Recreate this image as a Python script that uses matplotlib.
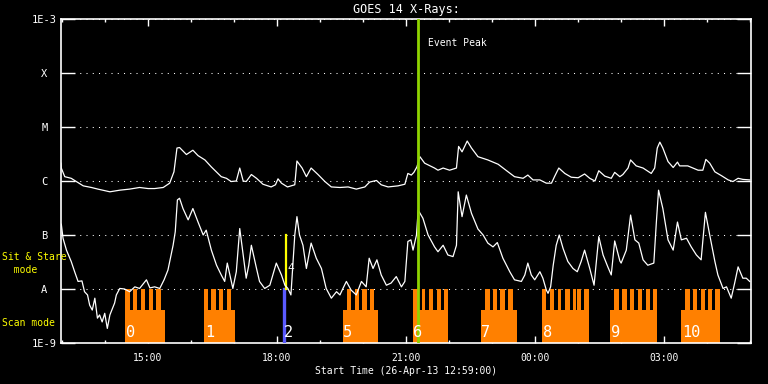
import numpy as np
import matplotlib
matplotlib.use('Agg')
import matplotlib.pyplot as plt
from matplotlib.ticker import NullLocator

plt.rcParams['font.family'] = ['DejaVu Sans Mono']

# time in hours of day (24+ = next day), flux as log10(W/m^2)
t_long = [12.98, 12.99, 13.07, 13.22, 13.34, 13.50, 13.69, 13.84, 14.12, 14.35, 14.58, 14.81,
          15.01, 15.16, 15.36, 15.51, 15.61, 15.68, 15.74, 15.90, 16.05, 16.17, 16.33, 16.48,
          16.71, 16.83, 16.94, 17.06, 17.14, 17.22, 17.29, 17.41, 17.53, 17.68, 17.87, 17.97,
          18.03, 18.11, 18.25, 18.42, 18.47, 18.59, 18.69, 18.80, 18.96, 19.12, 19.27, 19.47,
          19.66, 19.85, 20.05, 20.16, 20.32, 20.43, 20.59, 20.82, 20.98, 21.05, 21.13, 21.19,
          21.26, 21.33, 21.44, 21.67, 21.75, 21.87, 22.02, 22.18, 22.23, 22.31, 22.43, 22.53,
          22.68, 22.91, 23.15, 23.38, 23.53, 23.73, 23.84, 23.96, 24.12, 24.27, 24.39, 24.46,
          24.56, 24.70, 24.85, 25.01, 25.16, 25.28, 25.40, 25.49, 25.63, 25.78, 25.86, 25.98,
          26.05, 26.17, 26.23, 26.36, 26.52, 26.71, 26.79, 26.85, 26.91, 26.98, 27.10, 27.22,
          27.32, 27.37, 27.56, 27.80, 27.91, 27.98, 28.07, 28.19, 28.34, 28.50, 28.61, 28.73,
          28.84, 29.00]
f_long = [-5.67, -5.76, -5.92, -5.95, -6.01, -6.09, -6.12, -6.15, -6.20, -6.17, -6.15, -6.12,
          -6.14, -6.14, -6.12, -6.04, -5.83, -5.39, -5.38, -5.51, -5.43, -5.53, -5.61, -5.74,
          -5.92, -5.95, -6.01, -6.00, -5.76, -6.00, -6.01, -5.88, -5.95, -6.06, -6.11, -6.07,
          -5.96, -6.04, -6.11, -6.07, -5.63, -5.76, -5.92, -5.76, -5.88, -6.01, -6.11, -6.12,
          -6.11, -6.15, -6.11, -6.02, -5.99, -6.07, -6.11, -6.09, -6.06, -5.86, -5.89, -5.84,
          -5.74, -5.55, -5.67, -5.76, -5.80, -5.76, -5.80, -5.76, -5.36, -5.46, -5.26, -5.39,
          -5.55, -5.61, -5.69, -5.83, -5.92, -5.95, -5.89, -5.98, -5.98, -6.04, -6.04, -5.92,
          -5.76, -5.86, -5.93, -5.94, -5.87, -5.95, -6.00, -5.81, -5.91, -5.95, -5.84, -5.92,
          -5.88, -5.76, -5.61, -5.72, -5.76, -5.86, -5.76, -5.39, -5.28, -5.39, -5.64, -5.75,
          -5.65, -5.72, -5.72, -5.80, -5.80, -5.60, -5.67, -5.83, -5.90, -5.98, -6.01, -5.95,
          -5.97, -5.98]

t_short = [12.99, 13.03, 13.11, 13.22, 13.30, 13.38, 13.47, 13.53, 13.60, 13.65, 13.71, 13.77,
           13.83, 13.88, 13.94, 14.00, 14.06, 14.12, 14.18, 14.23, 14.27, 14.35, 14.46, 14.58,
           14.70, 14.81, 14.97, 15.05, 15.16, 15.28, 15.38, 15.47, 15.59, 15.64, 15.69, 15.74,
           15.82, 15.94, 16.05, 16.17, 16.29, 16.36, 16.48, 16.60, 16.71, 16.79, 16.85, 16.91,
           16.98, 17.06, 17.14, 17.22, 17.29, 17.35, 17.41, 17.53, 17.60, 17.72, 17.84, 17.99,
           18.11, 18.19, 18.26, 18.33, 18.42, 18.47, 18.53, 18.61, 18.69, 18.80, 18.92, 19.04,
           19.15, 19.27, 19.39, 19.47, 19.54, 19.62, 19.73, 19.85, 19.97, 20.08, 20.15, 20.24,
           20.33, 20.43, 20.55, 20.66, 20.78, 20.90, 20.98, 21.05, 21.12, 21.17, 21.25, 21.29,
           21.40, 21.52, 21.67, 21.75, 21.87, 21.98, 22.10, 22.18, 22.22, 22.31, 22.41, 22.53,
           22.68, 22.80, 22.91, 23.03, 23.13, 23.26, 23.42, 23.53, 23.69, 23.77, 23.84, 23.92,
           24.00, 24.12, 24.19, 24.27, 24.31, 24.37, 24.43, 24.50, 24.57, 24.66, 24.77, 24.89,
           24.99, 25.08, 25.16, 25.28, 25.38, 25.49, 25.59, 25.70, 25.78, 25.86, 25.98, 26.01,
           26.13, 26.23, 26.33, 26.42, 26.52, 26.63, 26.77, 26.83, 26.88, 26.98, 27.10, 27.22,
           27.32, 27.41, 27.53, 27.64, 27.76, 27.87, 27.97, 28.07, 28.19, 28.26, 28.38, 28.46,
           28.57, 28.65, 28.73, 28.84, 28.92, 29.00]
f_short = [-6.80, -7.06, -7.28, -7.49, -7.68, -7.86, -7.85, -8.05, -8.11, -8.30, -8.39, -8.17,
           -8.54, -8.48, -8.61, -8.45, -8.73, -8.48, -8.36, -8.26, -8.11, -7.99, -8.00, -8.05,
           -7.96, -7.99, -7.83, -7.98, -7.96, -7.99, -7.83, -7.65, -7.19, -6.94, -6.35, -6.32,
           -6.51, -6.72, -6.51, -6.76, -7.00, -6.91, -7.28, -7.56, -7.74, -7.86, -7.52, -7.74,
           -7.99, -7.68, -6.88, -7.37, -7.80, -7.56, -7.19, -7.62, -7.86, -7.99, -7.93, -7.52,
           -7.74, -7.93, -7.99, -8.11, -7.00, -6.66, -7.00, -7.19, -7.62, -7.15, -7.43, -7.62,
           -7.99, -8.17, -8.05, -8.11, -7.99, -7.86, -8.02, -8.11, -7.86, -7.96, -7.43, -7.62,
           -7.46, -7.74, -7.93, -7.89, -7.77, -7.96, -7.86, -7.12, -7.09, -7.28, -7.00, -6.54,
           -6.69, -7.00, -7.22, -7.31, -7.19, -7.37, -7.40, -7.19, -6.20, -6.66, -6.26, -6.60,
           -6.89, -7.00, -7.15, -7.22, -7.14, -7.43, -7.68, -7.83, -7.86, -7.74, -7.52, -7.74,
           -7.83, -7.68, -7.80, -8.02, -8.08, -7.96, -7.56, -7.19, -7.00, -7.25, -7.49, -7.62,
           -7.68, -7.49, -7.28, -7.62, -7.93, -7.03, -7.37, -7.59, -7.74, -7.11, -7.48, -7.52,
           -7.28, -6.63, -7.09, -7.15, -7.46, -7.56, -7.52, -6.75, -6.17, -6.51, -7.09, -7.28,
           -6.76, -7.09, -7.06, -7.22, -7.37, -7.46, -6.58, -7.00, -7.49, -7.74, -7.99, -7.96,
           -8.17, -7.89, -7.59, -7.80, -7.80, -7.86]

# scan groups: id, block start/end, sit & stare intervals
scan_ids = [0, 1, 5, 6, 7, 8, 9, 10]
scan_blocks = [(14.47, 15.40), (16.31, 17.03), (19.53, 20.35), (21.16, 21.98),
               (22.74, 23.59), (24.17, 25.26), (25.75, 26.84), (27.40, 28.31)]
stare_parts = [
    [(14.47, 14.58), (14.66, 14.75), (14.84, 14.93), (15.02, 15.12), (15.20, 15.30)],
    [(16.31, 16.41), (16.48, 16.58), (16.66, 16.76), (16.84, 16.94)],
    [(19.63, 19.73), (19.82, 19.91), (19.99, 20.09), (20.17, 20.26)],
    [(21.16, 21.29), (21.37, 21.46), (21.55, 21.64), (21.72, 21.81), (21.89, 21.98)],
    [(22.85, 22.95), (23.03, 23.13), (23.20, 23.30), (23.38, 23.49)],
    [(24.17, 24.27), (24.36, 24.45), (24.53, 24.62), (24.70, 24.81), (24.89, 24.96),
     (24.99, 25.07), (25.15, 25.26)],
    [(25.85, 25.96), (26.04, 26.14), (26.22, 26.32), (26.40, 26.49), (26.58, 26.68),
     (26.76, 26.84)],
    [(27.50, 27.60), (27.68, 27.78), (27.86, 27.95), (28.03, 28.13), (28.20, 28.31)],
]
scan_level = 10 ** -8.39
stare_level = 1e-8
floor = 1e-9

event_peak = 21.29
blue_time, blue_id = 18.16, 2
yellow_time = 18.22

t_start, t_end = 12.983, 29.03
major_hours = [15, 18, 21, 24, 27]
major_labels = ['15:00', '18:00', '21:00', '00:00', '03:00']
minor_hours = list(range(13, 30))
levels = [1e-9, 1e-8, 1e-7, 1e-6, 1e-5, 1e-4, 1e-3]
level_labels = ['1E-9', 'A', 'B', 'C', 'M', 'X', '1E-3']

ORANGE = '#ff8000'
FS = 7
fig = plt.figure(figsize=(7.68, 3.84), dpi=100, facecolor='black')
ax = fig.add_axes([61/768, 1-343/384, 690/768, 324/384], facecolor='black')
ax.set_yscale('log')
ax.set_xlim(t_start, t_end)
ax.set_ylim(1e-9, 1e-3)

# orange scan / sit&stare blocks
for gid, (a, b), parts in zip(scan_ids, scan_blocks, stare_parts):
    ax.bar(a, scan_level - floor, width=b - a, bottom=floor, align='edge',
           color=ORANGE, linewidth=0, zorder=2)
    for (p, q) in parts:
        ax.bar(p, stare_level - floor, width=q - p, bottom=floor, align='edge',
               color=ORANGE, linewidth=0, zorder=2)
    ax.text(a + 0.02, 10 ** -8.80, str(gid), color='white', fontsize=11,
            ha='left', va='center', zorder=5)

ax.plot([blue_time, blue_time], [floor, stare_level], color='#5a5aff', lw=2.4, zorder=3)
ax.text(blue_time + 0.0, 10 ** -8.80, str(blue_id), color='white', fontsize=11,
        ha='left', va='center', zorder=5)
ax.plot([yellow_time, yellow_time], [stare_level, 1e-7], color='yellow', lw=1.6, zorder=3)
ax.text(yellow_time + 0.04, 10 ** -7.62, '4', color='white', fontsize=8,
        ha='left', va='center', zorder=5)

ax.plot(t_long, 10 ** np.array(f_long), color='white', lw=0.9, zorder=4)
ax.plot(t_short, 10 ** np.array(f_short), color='white', lw=0.9, zorder=4)

ax.axvline(event_peak, color='#8fd400', lw=2, zorder=4)
ax.text(event_peak + 0.23, 10 ** -3.45, 'Event Peak', color='white', fontsize=FS,
        ha='left', va='center')

# axes styling
for s in ax.spines.values():
    s.set_color('white')
    s.set_linewidth(1.2)
ax.set_xticks(major_hours)
ax.set_xticklabels(major_labels)
ax.set_xticks(minor_hours, minor=True)
ax.tick_params(axis='x', which='major', direction='in', top=True, length=5,
               color='white', labelcolor='white', labelsize=FS, width=1, pad=7)
ax.tick_params(axis='x', which='minor', direction='in', top=True, length=2.5,
               color='white', width=1)
ax.set_yticks(levels)
ax.set_yticklabels(level_labels)
ax.yaxis.set_minor_locator(NullLocator())
ax.tick_params(axis='y', which='major', direction='in', left=True, right=True,
               length=10, color='white', labelcolor='white', labelsize=7.5, width=1,
               pad=12)
for lab in ax.get_yticklabels():
    lab.set_horizontalalignment('center')
ax.grid(axis='y', which='major', color='white', linestyle=(0, (1, 5)), linewidth=0.75)

ax.set_xlabel('Start Time (26-Apr-13 12:59:00)', color='white', fontsize=FS, labelpad=2)
fig.text(406/768, 1 - 9/384, 'GOES 14 X-Rays:', color='white', fontsize=8.5,
         ha='center', va='center')

fig.text(2/768, 1 - 257/384, 'Sit & Stare', color='yellow', fontsize=FS, va='center')
fig.text(2/768, 1 - 270/384, '  mode', color='yellow', fontsize=FS, va='center')
fig.text(2/768, 1 - 323/384, 'Scan mode', color='yellow', fontsize=FS, va='center')

fig.savefig('out.png', dpi=100, facecolor='black')
